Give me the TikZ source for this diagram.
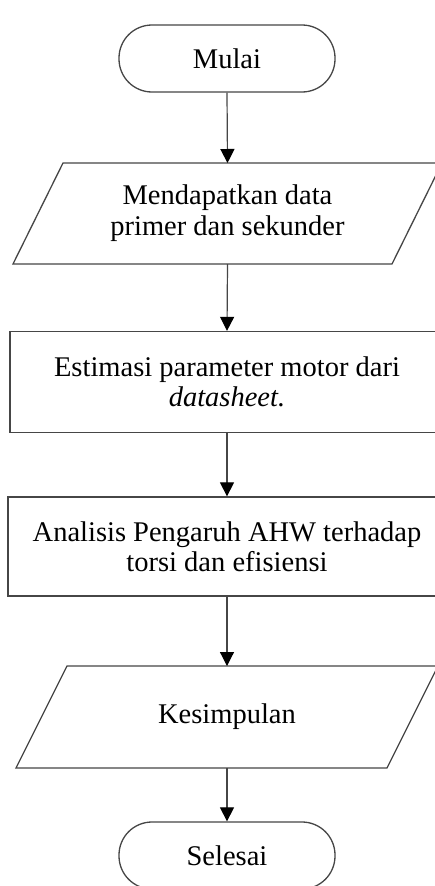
\documentclass[tikz,border=0pt]{standalone}
\usepackage{fontspec}
\setmainfont{Liberation Serif}
\usetikzlibrary{shapes.geometric,arrows.meta}
\definecolor{linec}{RGB}{70,70,70}
\begin{document}
\begin{tikzpicture}[x=1pt,y=-1pt,
  txt/.style={font=\fontsize{28.5}{30.5}\selectfont, align=center, inner sep=0pt},
  box/.style={txt, draw=linec, line width=1.3pt, fill=white},
  term/.style={box, rectangle, rounded corners=33pt, minimum width=216pt, minimum height=67pt},
  proc/.style={box, rectangle},
  io/.style={draw=linec, line width=1.3pt, fill=white},
  flow/.style={draw=linec, line width=1.2pt, -{Triangle[width=14pt,length=14pt,fill=black,color=black]}}]
\useasboundingbox (0,0) rectangle (435,886);
\clip (0,0) rectangle (435,886);
\fill[white] (0,0) rectangle (435,886);
% terminators and processes
\node[term] (start) at (227,58.5) {Mulai};
\node[proc, minimum width=434pt, minimum height=101pt] (est) at (227,382) {Estimasi parameter motor dari\\\textit{datasheet.}};
\node[proc, minimum width=438pt, minimum height=99pt] (ana) at (227,546.5) {Analisis Pengaruh AHW terhadap\\torsi dan efisiensi};
\node[term] (end) at (227,855.5) {Selesai};
% input/output parallelograms
\draw[io] (63,163) -- (442,163) -- (392,264) -- (13,264) -- cycle;
\coordinate (dataN) at (227.5,163);
\coordinate (dataS) at (227.5,264);
\node[txt] (data) at (227.5,213) {Mendapatkan data\\primer dan sekunder};
\draw[io] (67,666) -- (438,666) -- (387,768) -- (16,768) -- cycle;
\coordinate (kesN) at (227,666);
\coordinate (kesS) at (227,768);
\node[txt] (kes) at (227,717) {Kesimpulan};
% connectors
\draw[flow] (start.south) -- (dataN);
\draw[flow] (dataS) -- (est.north);
\draw[flow] (est.south) -- (ana.north);
\draw[flow] (ana.south) -- (kesN);
\draw[flow] (kesS) -- (end.north);
\end{tikzpicture}
\end{document}
